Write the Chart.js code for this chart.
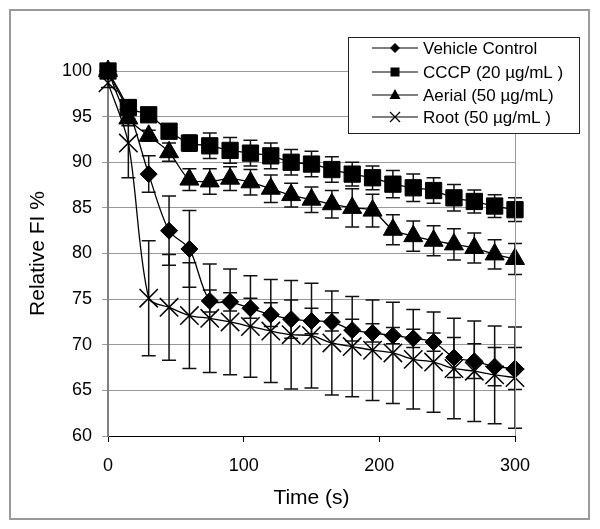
<!DOCTYPE html>
<html>
<head>
<meta charset="utf-8">
<script src="https://cdn.jsdelivr.net/npm/chart.js@4.4.1/dist/chart.umd.min.js"></script>
<style>
  html, body { margin: 0; padding: 0; background: #fff; }
  canvas { display: block; }
</style>
</head>
<body>
<canvas id="fiChart" width="600" height="529"></canvas>
<script>
const tiempos = [0, 15, 30, 45, 60, 75, 90, 105, 120, 135, 150, 165, 180, 195, 210, 225, 240, 255, 270, 285, 300];

const vehicle    = [100, 95.8, 88.7, 82.5, 80.5, 74.8, 74.7, 74.0, 73.3, 72.8, 72.6, 72.5, 71.6, 71.3, 71.0, 70.7, 70.3, 68.6, 68.2, 67.6, 67.4];
const vehicleErr = [0, 1.0, 2.0, 3.8, 4.2, 1.2, 1.0, 1.1, 1.3, 2.1, 1.4, 1.0, 1.2, 1.0, 0.9, 1.0, 1.0, 2.2, 1.9, 2.1, 2.3];

const cccp    = [100, 96.0, 95.2, 93.4, 92.1, 91.8, 91.3, 91.0, 90.7, 90.0, 89.8, 89.2, 88.7, 88.3, 87.6, 87.2, 86.9, 86.1, 85.7, 85.2, 84.8];
const cccpErr = [0, 0.5, 0.4, 0.6, 0.9, 1.4, 1.4, 1.4, 1.4, 1.4, 1.4, 1.4, 1.3, 1.3, 1.5, 1.5, 1.4, 1.45, 1.25, 1.25, 1.3];

const aerial    = [100, 94.8, 92.9, 91.1, 88.1, 87.9, 88.2, 87.8, 87.1, 86.4, 85.9, 85.4, 85.0, 84.7, 82.6, 81.9, 81.4, 81.0, 80.6, 79.9, 79.4];
const aerialErr = [0, 0.8, 0.6, 1.0, 1.2, 1.4, 1.3, 1.4, 1.5, 1.3, 1.4, 1.5, 2.1, 1.8, 1.65, 1.65, 1.65, 1.7, 1.65, 1.6, 1.7];

const root    = [98.7, 92.1, 75.1, 74.1, 73.2, 72.9, 72.5, 72.0, 71.5, 71.1, 71.0, 70.2, 69.8, 69.4, 69.1, 68.4, 68.1, 67.4, 67.1, 66.7, 66.4];
const rootErr = [0.5, 3.8, 6.3, 5.8, 5.8, 5.95, 5.8, 5.55, 5.65, 5.95, 5.75, 5.7, 5.5, 5.5, 5.55, 5.45, 5.5, 5.5, 5.5, 5.35, 5.55];

const nombres = ['Vehicle Control', 'CCCP (20 µg/mL )', 'Aerial (50 µg/mL)', 'Root (50 µg/mL )'];

const fuente = '"Liberation Sans", Arial, sans-serif';

function puntos(valores) {
    return valores.map((v, i) => ({ x: tiempos[i], y: v }));
}

function serie(label, valores, errores, estilo, radio, orden) {
    return {
        label: label,
        data: puntos(valores),
        errores: errores,
        borderColor: '#000',
        backgroundColor: '#000',
        borderWidth: 1.3,
        tension: 0.3,
        pointStyle: estilo,
        pointRadius: radio,
        pointBorderWidth: estilo === 'crossRot' ? 1.5 : 1,
        pointBackgroundColor: '#000',
        pointBorderColor: '#000',
        clip: false,
        order: orden
    };
}

// barras de error verticales con tope
const barrasError = {
    id: 'barrasError',
    beforeDatasetsDraw(chart) {
        const ctx = chart.ctx;
        const sx = chart.scales.x;
        const sy = chart.scales.y;
        ctx.save();
        ctx.strokeStyle = '#111';
        ctx.lineWidth = 1.5;
        chart.data.datasets.forEach(ds => {
            ds.data.forEach((p, i) => {
                const e = ds.errores[i];
                if (!e) return;
                const px = sx.getPixelForValue(p.x);
                const arriba = sy.getPixelForValue(p.y + e);
                const abajo = sy.getPixelForValue(p.y - e);
                ctx.beginPath();
                ctx.moveTo(px, arriba);
                ctx.lineTo(px, abajo);
                ctx.moveTo(px - 7, arriba);
                ctx.lineTo(px + 7, arriba);
                ctx.moveTo(px - 7, abajo);
                ctx.lineTo(px + 7, abajo);
                ctx.stroke();
            });
        });
        ctx.restore();
    }
};

function marcador(ctx, estilo, x, y) {
    ctx.beginPath();
    if (estilo === 'rectRot') {
        ctx.moveTo(x, y - 5); ctx.lineTo(x + 5, y); ctx.lineTo(x, y + 5); ctx.lineTo(x - 5, y);
        ctx.closePath(); ctx.fill();
    } else if (estilo === 'rect') {
        ctx.fillRect(x - 4.5, y - 4.5, 9, 9);
    } else if (estilo === 'triangle') {
        ctx.moveTo(x, y - 6); ctx.lineTo(x + 5.5, y + 4); ctx.lineTo(x - 5.5, y + 4);
        ctx.closePath(); ctx.fill();
    } else {
        ctx.lineWidth = 1.2;
        ctx.moveTo(x - 5, y - 5); ctx.lineTo(x + 5, y + 5);
        ctx.moveTo(x + 5, y - 5); ctx.lineTo(x - 5, y + 5);
        ctx.stroke();
    }
}

// marco exterior, borde derecho del área y leyenda en caja
const marcoLeyenda = {
    id: 'marcoLeyenda',
    afterDraw(chart) {
        const ctx = chart.ctx;
        const area = chart.chartArea;
        ctx.save();
        ctx.strokeStyle = '#999';
        ctx.lineWidth = 1;
        ctx.beginPath();
        ctx.moveTo(area.right + 0.5, area.top);
        ctx.lineTo(area.right + 0.5, area.bottom);
        ctx.stroke();

        ctx.strokeStyle = '#9a9a9a';
        ctx.lineWidth = 2;
        ctx.strokeRect(10, 10, 579, 509);

        ctx.fillStyle = '#fff';
        ctx.fillRect(348, 37, 231, 96);
        ctx.strokeStyle = '#222';
        ctx.lineWidth = 1;
        ctx.strokeRect(348.5, 37.5, 231, 96);

        const estilos = chart.data.datasets.map(d => d.pointStyle);
        const filas = [48, 72, 95, 117];
        ctx.font = '17px ' + fuente;
        ctx.textBaseline = 'middle';
        ctx.textAlign = 'left';
        nombres.forEach((n, i) => {
            const y = filas[i];
            ctx.strokeStyle = '#000';
            ctx.fillStyle = '#000';
            ctx.lineWidth = 1.2;
            ctx.beginPath();
            ctx.moveTo(372, y);
            ctx.lineTo(418, y);
            ctx.stroke();
            marcador(ctx, estilos[i], 395, y);
            ctx.fillText(n, 423, y + 1);
        });
        ctx.restore();
    }
};

new Chart(document.getElementById('fiChart').getContext('2d'), {
    type: 'line',
    data: {
        datasets: [
            serie(nombres[0], vehicle, vehicleErr, 'rectRot', 8.5, 3),
            serie(nombres[1], cccp, cccpErr, 'rect', 11.5, 2),
            serie(nombres[2], aerial, aerialErr, 'triangle', 11, 1),
            serie(nombres[3], root, rootErr, 'crossRot', 13, 0)
        ]
    },
    options: {
        responsive: false,
        animation: false,
        layout: { padding: { left: 10, right: 85, top: 71, bottom: 12 } },
        plugins: {
            legend: { display: false },
            tooltip: { enabled: false }
        },
        scales: {
            x: {
                type: 'linear',
                min: 0,
                max: 300,
                afterFit: s => { s.height = 81; },
                ticks: {
                    stepSize: 100,
                    color: '#000',
                    padding: 13,
                    maxRotation: 0,
                    font: { family: fuente, size: 18 }
                },
                grid: { drawOnChartArea: false, drawTicks: true, tickLength: 6, color: '#000' },
                border: { color: '#000', width: 1 },
                title: {
                    display: true,
                    text: 'Time (s)',
                    color: '#000',
                    font: { family: fuente, size: 21 },
                    padding: { top: 4, bottom: 6 }
                }
            },
            y: {
                min: 60,
                max: 100,
                afterFit: s => { s.width = 98; },
                ticks: {
                    stepSize: 5,
                    color: '#000',
                    padding: 10,
                    font: { family: fuente, size: 18 }
                },
                grid: { color: '#999', lineWidth: 1, drawTicks: true, tickLength: 6 },
                border: { color: '#808080', width: 2 },
                title: {
                    display: true,
                    text: 'Relative FI %',
                    color: '#000',
                    font: { family: fuente, size: 21 },
                    padding: { top: 16, bottom: 0 }
                }
            }
        }
    },
    plugins: [barrasError, marcoLeyenda]
});
</script>
</body>
</html>
